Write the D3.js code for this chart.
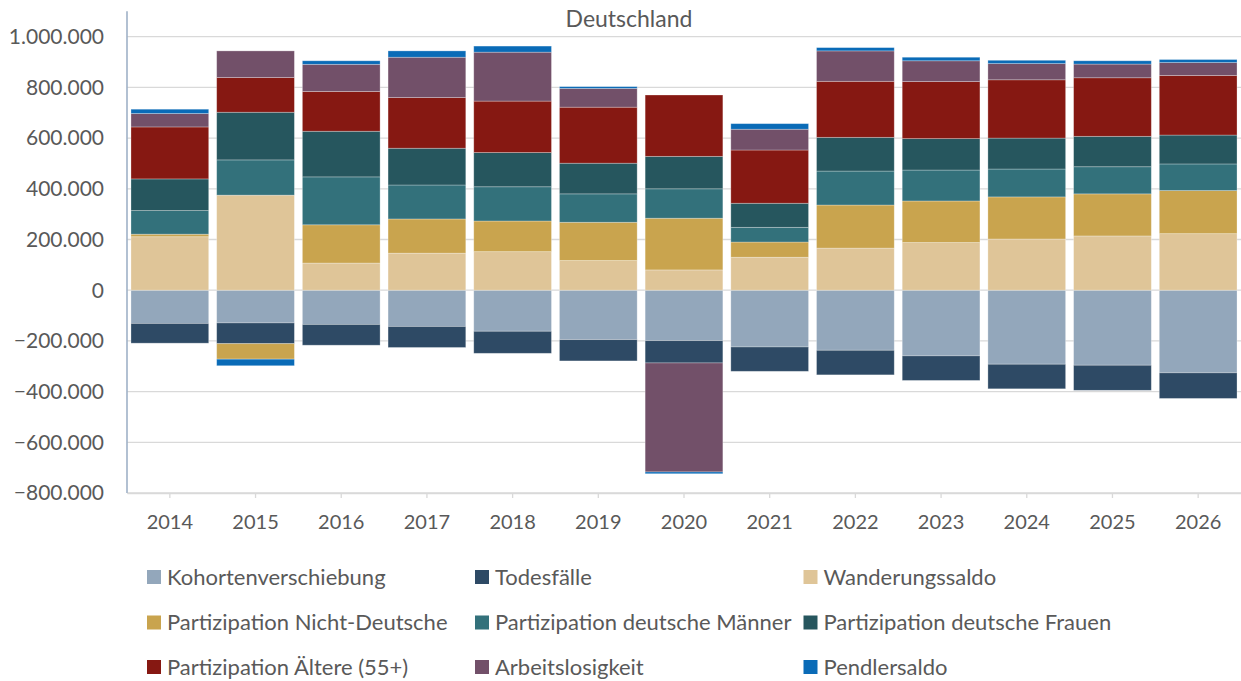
<!DOCTYPE html>
<html><head><meta charset="utf-8">
<script src="https://cdn.jsdelivr.net/npm/d3@7"></script>
<style>
html,body{margin:0;padding:0;background:#fff;}
svg{display:block;font-family:Lato,"Open Sans",sans-serif;}
</style></head>
<body><svg id="c" width="1241" height="681"></svg>
<script>
const years = ["2014","2015","2016","2017","2018","2019","2020","2021","2022","2023","2024","2025","2026"];
const seriesNames = ["Kohortenverschiebung","Todesfälle","Wanderungssaldo","Partizipation Nicht-Deutsche","Partizipation deutsche Männer","Partizipation deutsche Frauen","Partizipation Ältere (55+)","Arbeitslosigkeit","Pendlersaldo"];
const colors = ["#93a7bb","#2e4a65","#dfc598","#c9a44e","#33717b","#26565e","#861812","#725069","#0a6bb7"];
const kohorten   = [-131000,-129000,-135000,-143000,-162000,-195000,-199000,-224000,-237000,-259000,-292000,-296000,-326000];
const todes      = [-78000,-82000,-82000,-83000,-87000,-84000,-88000,-96000,-97000,-97000,-97000,-99000,-101000];
const wanderung  = [211000,375000,107000,146000,152000,117000,80000,130000,166000,188000,202000,214000,223000];
const nichtDt    = [10000,-61000,151000,135000,121000,151000,204000,60000,170000,164000,166000,166000,170000];
const maenner    = [93000,139000,189000,134000,135000,112000,116000,58000,134000,122000,110000,107000,105000];
const frauen     = [125000,188000,180000,145000,135000,121000,128000,95000,133000,124000,122000,120000,114000];
const aeltere    = [205000,137000,157000,200000,203000,221000,242000,210000,221000,225000,230000,231000,235000];
const arbeitslos = [53000,105000,107000,159000,193000,74000,-430000,82000,120000,82000,64000,54000,51000];
const pendler    = [17000,-26000,14000,25000,24000,7000,-7000,22000,13000,14000,13000,13000,12000];
const yTicks = [-800000,-600000,-400000,-200000,0,200000,400000,600000,800000,1000000];
const title = "Deutschland";

const seriesValues = [kohorten,todes,wanderung,nichtDt,maenner,frauen,aeltere,arbeitslos,pendler];
const table = years.map((y,i)=>{const o={year:y}; seriesNames.forEach((n,k)=>o[n]=seriesValues[k][i]); return o;});

const svg = d3.select("#c");
const textColor = "#595959";
const x0 = 127, x1 = 1241;
const x = d3.scaleBand().domain(years).range([x0,x1]).paddingInner(0.093).paddingOuter(0.0465);
const y = d3.scaleLinear().domain([-800000,1100000]).range([493,11.35]);
const fmt = v => d3.format(",")(v).replace(/,/g,".");

// gridlines
svg.append("g").selectAll("line").data(yTicks).join("line")
  .attr("x1",x0).attr("x2",x1).attr("y1",d=>y(d)).attr("y2",d=>y(d))
  .attr("stroke","#d9d9d9").attr("stroke-width",1.3);

// y labels
svg.append("g").selectAll("text").data(yTicks).join("text")
  .attr("x",104).attr("y",d=>y(d)).attr("dy","0.35em").attr("text-anchor","end")
  .attr("font-size",21).attr("fill",textColor).text(fmt);

// bars
const stack = d3.stack().keys(seriesNames).offset(d3.stackOffsetDiverging);
const layers = stack(table);
svg.append("g").selectAll("g").data(layers).join("g")
  .attr("fill",(d,i)=>colors[i])
  .selectAll("rect").data(d=>d.filter(p=>p[1]!==p[0])).join("rect")
  .attr("x",d=>x(d.data.year)).attr("width",x.bandwidth())
  .attr("y",d=>y(Math.max(d[0],d[1]))).attr("height",d=>Math.abs(y(d[0])-y(d[1])))
  .attr("stroke","rgba(255,255,255,0.35)").attr("stroke-width",0.8);

// y axis line
svg.append("line").attr("x1",x0).attr("x2",x0).attr("y1",y(1100000)).attr("y2",y(-800000))
  .attr("stroke","#9fb1c7").attr("stroke-width",1.6);

// x axis
const xa = svg.append("g").attr("transform",`translate(0,${y(-800000)})`)
  .call(d3.axisBottom(x).tickSize(5).tickSizeOuter(0));
xa.select(".domain").attr("stroke","#d9d9d9").attr("stroke-width",1.3);
xa.selectAll(".tick line").attr("stroke","#d9d9d9").attr("stroke-width",1.3);
xa.selectAll(".tick text").attr("font-size",20).attr("fill",textColor)
  .attr("font-family","Lato,'Open Sans',sans-serif").attr("y",22).attr("dy","0.71em");

// title
svg.append("text").attr("x",629).attr("y",27).attr("text-anchor","middle")
  .attr("font-size",23).attr("fill",textColor).text(title);

// legend
const legCols = [147,475,803.5], legRows = [577,622.5,667];
const leg = svg.append("g").selectAll("g").data(seriesNames).join("g")
  .attr("transform",(d,i)=>`translate(${legCols[i%3]},${legRows[Math.floor(i/3)]})`);
leg.append("rect").attr("x",0).attr("y",-7).attr("width",14).attr("height",14).attr("fill",(d,i)=>colors[i]);
leg.append("text").attr("x",20).attr("y",0).attr("dy","0.35em").attr("font-size",22).attr("fill",textColor).text(d=>d);
</script></body></html>
